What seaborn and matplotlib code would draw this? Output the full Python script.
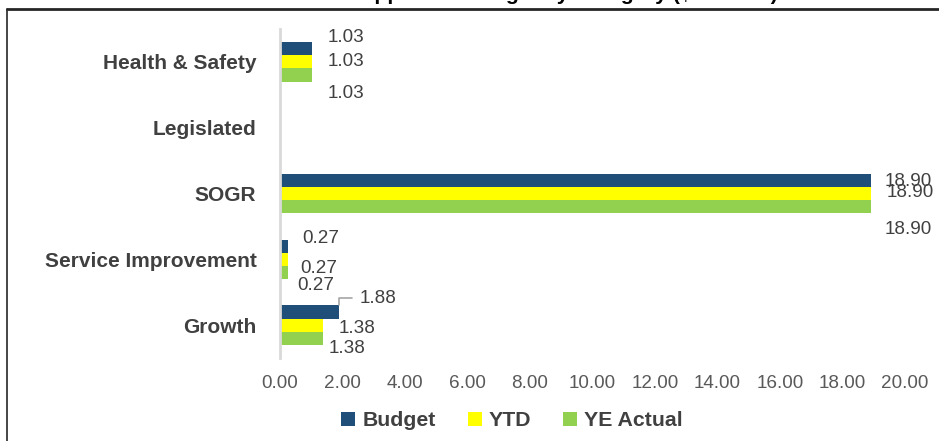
import matplotlib
matplotlib.use("Agg")
import matplotlib.pyplot as plt
import seaborn as sns
import pandas as pd
from matplotlib.lines import Line2D
from matplotlib.patches import Patch

# ---- data -------------------------------------------------------------
categories = ["Health & Safety", "Legislated", "SOGR", "Service Improvement", "Growth"]
series_names = ["Budget", "YTD", "YE Actual"]
budget = [1.03, 0.00, 18.90, 0.27, 1.88]
ytd = [1.03, 0.00, 18.90, 0.27, 1.38]
ye_actual = [1.03, 0.00, 18.90, 0.27, 1.38]
x_ticks = [0, 2, 4, 6, 8, 10, 12, 14, 16, 18, 20]
title_text = "Approved Budget by Category ($Millions)"

series_colors = ["#1F4E79", "#FFFF00", "#92D050"]

# label placement (pixels right of bar end, pixels below bar centre)
label_offsets = {
    ("Health & Safety", "Budget"): (15, -11),
    ("Health & Safety", "YTD"): (15, 0),
    ("Health & Safety", "YE Actual"): (15, 18),
    ("SOGR", "Budget"): (14, 1),
    ("SOGR", "YTD"): (16, -1),
    ("SOGR", "YE Actual"): (14, 23),
    ("Service Improvement", "Budget"): (14, -8),
    ("Service Improvement", "YTD"): (12, 9),
    ("Service Improvement", "YE Actual"): (9, 13),
    ("Growth", "Budget"): (21, -14),
    ("Growth", "YTD"): (15, 3),
    ("Growth", "YE Actual"): (6, 10),
}

df = pd.DataFrame({
    "Category": categories * 3,
    "Series": [s for s in series_names for _ in categories],
    "Value": budget + ytd + ye_actual,
})

# ---- styling ----------------------------------------------------------
sns.set_theme(style="white")
plt.rcParams["font.family"] = ["Liberation Sans", "DejaVu Sans"]

W, H, DPI = 939, 441, 100
fig = plt.figure(figsize=(W / DPI, H / DPI), dpi=DPI)
fig.patch.set_facecolor("white")

ax_left, ax_right = 280 / W, 905 / W
ax_top, ax_bottom = 1 - 29 / H, 1 - 358 / H
ax = fig.add_axes([ax_left, ax_bottom, ax_right - ax_left, ax_top - ax_bottom])

sns.barplot(
    data=df, y="Category", x="Value", hue="Series",
    order=categories, hue_order=series_names,
    palette=series_colors, orient="h", width=0.6, gap=0,
    saturation=1, linewidth=0, legend=False, ax=ax,
)

ax.set_xlim(0, 20)
ax.set_xticks(x_ticks)
ax.set_xticklabels([f"{t:.2f}" for t in x_ticks], fontsize=13.6, color="#595959")
ax.tick_params(axis="x", length=0, pad=12)
ax.tick_params(axis="y", length=0, pad=17)
for lbl in ax.get_yticklabels():
    lbl.set_fontsize(15)
    lbl.set_fontweight("bold")
    lbl.set_color("#404040")
ax.set_xlabel("")
ax.set_ylabel("")
for side in ["top", "right", "bottom"]:
    ax.spines[side].set_visible(False)
ax.spines["left"].set_color("#D9D9D9")
ax.spines["left"].set_linewidth(2)

# ---- value labels -----------------------------------------------------
px = 72 / DPI
label_size = 13.6
for s_idx, container in enumerate(ax.containers):
    sname = series_names[s_idx]
    values = [budget, ytd, ye_actual][s_idx]
    for c_idx, bar in enumerate(container.patches):
        cat = categories[c_idx]
        val = values[c_idx]
        if val == 0:
            continue
        dx, dy = label_offsets[(cat, sname)]
        if (cat, sname) == ("Growth", "Budget"):
            # label lifted above the bar with a leader line back to the bar end
            ax.annotate(
                f"{val:.2f}", xy=(val, bar.get_y()),
                xytext=(dx * px, -(dy + 7) * px),
                textcoords="offset points", ha="left", va="center",
                fontsize=label_size, color="#404040", annotation_clip=False,
                arrowprops=dict(
                    arrowstyle="-", color="#A6A6A6", lw=1.2,
                    connectionstyle="angle,angleA=0,angleB=90,rad=0",
                    relpos=(0, 0.5), shrinkA=3, shrinkB=0,
                ),
            )
            continue
        yc = bar.get_y() + bar.get_height() / 2
        ax.annotate(
            f"{val:.2f}", xy=(val, yc), xytext=(dx * px, -dy * px),
            textcoords="offset points", ha="left", va="center",
            fontsize=label_size, color="#404040", annotation_clip=False,
        )

# ---- legend -----------------------------------------------------------
handles = [Patch(facecolor=c, edgecolor="none") for c in series_colors]
leg = fig.legend(
    handles, series_names, loc="center", bbox_to_anchor=(512 / W, 1 - 421 / H),
    ncol=3, frameon=False, handlelength=0.66, handleheight=0.66,
    handletextpad=0.33, columnspacing=1.5, borderpad=0,
    prop={"weight": "bold", "size": 15.3},
)
for t in leg.get_texts():
    t.set_color("#404040")

# ---- title (runs off the top edge) and frame --------------------------
title = fig.text(568 / W, 1 + 0.5 / H, title_text, ha="center", va="baseline",
                 fontsize=15, fontweight="bold", color="black")
renderer = fig.canvas.get_renderer()
tw = title.get_window_extent(renderer).width
title.set_fontsize(15 * 420 / tw)

fig.add_artist(Line2D([7 / W, 1], [1 - 9 / H, 1 - 9 / H],
                      transform=fig.transFigure, color="#262626", lw=2))
fig.add_artist(Line2D([7 / W, 7 / W], [0, 1 - 9 / H],
                      transform=fig.transFigure, color="#262626", lw=1.2))

fig.savefig("out.png", dpi=DPI)
